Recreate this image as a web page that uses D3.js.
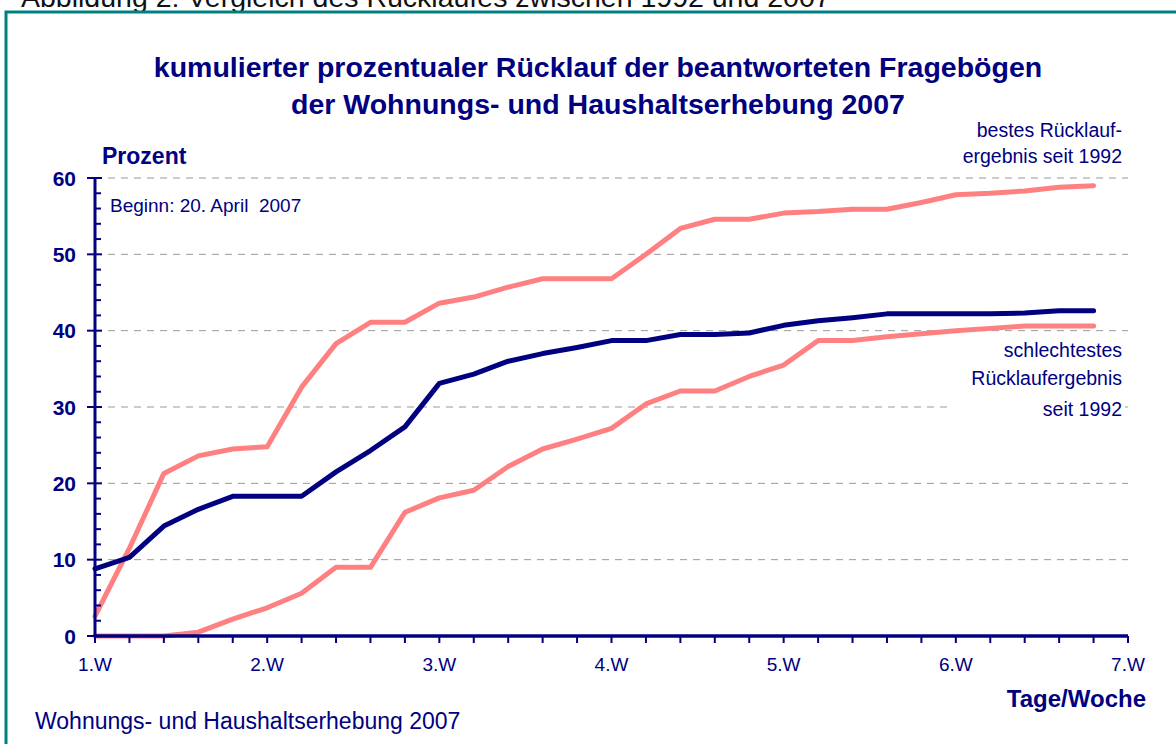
<!DOCTYPE html>
<html>
<head>
<meta charset="utf-8">
<script src="https://cdn.jsdelivr.net/npm/d3@7"></script>
<style>
	body { margin: 0; background: #fff; }
	svg { display: block; font-family: Arial, "Liberation Sans", sans-serif; }
	text { white-space: pre; }
</style>
</head>
<body>
<svg id="chart" width="1176" height="744"></svg>
<script>
// x positions: one point every 0.2 week, starting at week 1
const steps = d3.range(30).map(i => 1 + i * 0.2);
const weekLabels = ['1.W', '2.W', '3.W', '4.W', '5.W', '6.W', '7.W'];
const yTicks = [0, 10, 20, 30, 40, 50, 60];

// 2007 survey
const current = [8.8, 10.3, 14.4, 16.6, 18.3, 18.3, 18.3, 21.5, 24.3, 27.4,
	33.1, 34.3, 36.0, 37.0, 37.8, 38.7, 38.7, 39.5, 39.5, 39.7,
	40.7, 41.3, 41.7, 42.2, 42.2, 42.2, 42.2, 42.3, 42.6, 42.6];
// best result since 1992
const best = [2.6, 11.5, 21.3, 23.6, 24.5, 24.8, 32.6, 38.3, 41.1, 41.1,
	43.6, 44.4, 45.7, 46.8, 46.8, 46.8, 50.0, 53.4, 54.6, 54.6,
	55.4, 55.6, 55.9, 55.9, 56.8, 57.8, 58.0, 58.3, 58.8, 59.0];
// worst result since 1992
const worst = [0, 0, 0, 0.5, 2.2, 3.7, 5.6, 9.0, 9.0, 16.2,
	18.1, 19.1, 22.2, 24.5, 25.8, 27.2, 30.4, 32.1, 32.1, 34.0,
	35.5, 38.7, 38.7, 39.2, 39.6, 40.0, 40.3, 40.6, 40.6, 40.6];

const navy = '#000080';
const pink = '#ff8080';

const svg = d3.select('#chart');
const x = d3.scaleLinear().domain([1, 7]).range([95, 1128]);
const y = d3.scaleLinear().domain([0, 60]).range([636, 178]);

// caption above the frame (cut off at the top)
svg.append('text')
	.attr('x', 21).attr('y', 7)
	.style('font-size', '28.5px').attr('fill', '#111')
	.text('Abbildung 2: Vergleich des Rücklaufes zwischen 1992 und 2007');

// teal frame
svg.append('rect')
	.attr('x', 6).attr('y', 12)
	.attr('width', 1200).attr('height', 760)
	.attr('fill', '#fff')
	.attr('stroke', '#008080').attr('stroke-width', 3);

// title
const title = svg.append('text')
	.attr('text-anchor', 'middle').attr('fill', navy)
	.style('font-size', '28.5px').style('font-weight', 'bold');
title.append('tspan').attr('x', 598).attr('y', 77)
	.text('kumulierter prozentualer Rücklauf der beantworteten Fragebögen');
title.append('tspan').attr('x', 598).attr('y', 114)
	.text('der Wohnungs- und Haushaltserhebung 2007');

// dashed grid
svg.append('g')
	.selectAll('line')
	.data(yTicks.filter(d => d > 0))
	.join('line')
	.attr('x1', x(1)).attr('x2', x(7))
	.attr('y1', d => y(d)).attr('y2', d => y(d))
	.attr('stroke', '#999').attr('stroke-width', 1)
	.attr('stroke-dasharray', '7,6');

// white box behind the lower annotation
svg.append('rect')
	.attr('x', 947).attr('y', 339)
	.attr('width', 178).attr('height', 84)
	.attr('fill', '#fff');

// lines
const line = d3.line()
	.x((d, i) => x(steps[i]))
	.y(d => y(d))
	.curve(d3.curveLinear);

[[worst, pink], [best, pink], [current, navy]].forEach(([data, color]) => {
	svg.append('path')
		.datum(data)
		.attr('d', line)
		.attr('fill', 'none')
		.attr('stroke', color)
		.attr('stroke-width', 5)
		.attr('stroke-linejoin', 'round')
		.attr('stroke-linecap', 'round');
});

// y axis
const yAxis = svg.append('g').attr('transform', `translate(${x(1)},0)`);
yAxis.append('line')
	.attr('y1', y(0)).attr('y2', y(60))
	.attr('stroke', navy).attr('stroke-width', 3);
yAxis.selectAll('.minor')
	.data(d3.range(0, 61, 2).filter(d => d % 10))
	.join('line')
	.attr('x1', 0).attr('x2', 6)
	.attr('y1', d => y(d)).attr('y2', d => y(d))
	.attr('stroke', navy).attr('stroke-width', 2);
yAxis.selectAll('.major')
	.data(yTicks)
	.join('line')
	.attr('x1', -8).attr('x2', 7)
	.attr('y1', d => y(d)).attr('y2', d => y(d))
	.attr('stroke', navy).attr('stroke-width', 2);
yAxis.selectAll('text')
	.data(yTicks)
	.join('text')
	.attr('x', -19).attr('y', d => y(d) + 7.5)
	.attr('text-anchor', 'end').attr('fill', navy)
	.style('font-size', '21px').style('font-weight', 'bold')
	.text(d => d);

// x axis
const xAxis = svg.append('g').attr('transform', `translate(0,${y(0)})`);
xAxis.append('line')
	.attr('x1', x(1)).attr('x2', x(7))
	.attr('stroke', navy).attr('stroke-width', 3.5);
xAxis.selectAll('.tick')
	.data(d3.range(31).map(i => 1 + i * 0.2))
	.join('line')
	.attr('x1', d => x(d)).attr('x2', d => x(d))
	.attr('y1', 0).attr('y2', 7)
	.attr('stroke', navy).attr('stroke-width', 2);
xAxis.selectAll('text')
	.data(weekLabels)
	.join('text')
	.attr('x', (d, i) => x(i + 1)).attr('y', 35)
	.attr('text-anchor', 'middle').attr('fill', navy)
	.style('font-size', '19px')
	.text(d => d);

// axis titles and notes
svg.append('text')
	.attr('x', 102).attr('y', 164)
	.attr('fill', navy)
	.style('font-size', '23px').style('font-weight', 'bold')
	.text('Prozent');

svg.append('text')
	.attr('x', 1146).attr('y', 707)
	.attr('text-anchor', 'end').attr('fill', navy)
	.style('font-size', '24px').style('font-weight', 'bold')
	.text('Tage/Woche');

svg.append('text')
	.attr('x', 110).attr('y', 212)
	.attr('fill', navy).style('font-size', '19px')
	.text('Beginn: 20. April  2007');

svg.append('text')
	.attr('x', 35).attr('y', 729)
	.attr('fill', navy).style('font-size', '23px')
	.text('Wohnungs- und Haushaltserhebung 2007');

const note = (lines, ys) => {
	const t = svg.append('text')
		.attr('text-anchor', 'end').attr('fill', navy)
		.style('font-size', '19.5px');
	lines.forEach((s, i) => {
		t.append('tspan').attr('x', 1122).attr('y', ys[i]).text(s);
	});
};
note(['bestes Rücklauf-', 'ergebnis seit 1992'], [137, 163]);
note(['schlechtestes', 'Rücklaufergebnis', 'seit 1992'], [357, 385, 416]);
</script>
</body>
</html>
